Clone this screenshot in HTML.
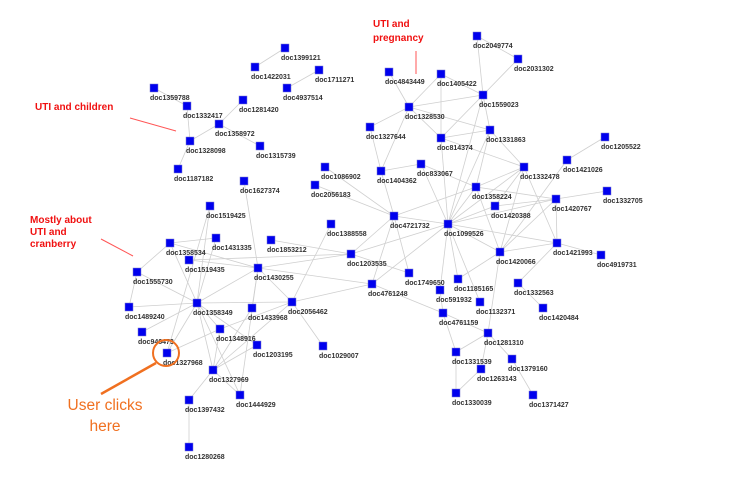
<!DOCTYPE html>
<html><head><meta charset="utf-8"><style>
html,body{margin:0;padding:0;background:#fff;width:736px;height:484px;overflow:hidden}
svg{display:block}
.l{font-family:"Liberation Sans",sans-serif;font-size:7px;font-weight:bold;fill:#333}
.r{font-family:"Liberation Sans",sans-serif;font-size:10px;font-weight:bold;fill:#f01010}
.o{font-family:"Liberation Sans",sans-serif;font-size:15.5px;fill:#f07020}
</style></head><body>
<svg id="s" width="736" height="484" xmlns="http://www.w3.org/2000/svg">
<g id="E" stroke="#cfcfcf" stroke-width="0.8"></g>
<g id="N"></g>
<text class="r" x="35" y="110">UTI and children</text>
<line x1="130" y1="118" x2="176" y2="131" stroke="#f55" stroke-width="1"/>
<text class="r" x="30" y="223">Mostly about</text>
<text class="r" x="30" y="235">UTI and</text>
<text class="r" x="30" y="247">cranberry</text>
<line x1="101" y1="239" x2="133" y2="256" stroke="#f55" stroke-width="1"/>
<text class="r" x="373" y="27">UTI and</text>
<text class="r" x="373" y="41">pregnancy</text>
<line x1="416" y1="51" x2="416" y2="74" stroke="#f55" stroke-width="1"/>
<circle cx="166" cy="353" r="13" fill="none" stroke="#f07020" stroke-width="2"/>
<line x1="156" y1="363" x2="101" y2="394" stroke="#f07020" stroke-width="2.5"/>
<text class="o" x="105" y="410" text-anchor="middle">User clicks</text>
<text class="o" x="105" y="431" text-anchor="middle">here</text>
</svg>
<script>
var P={1399121:[285,48],1422031:[255,67],1711271:[319,70],4937514:[287,88],1359788:[154,88],1332417:[187,106],1281420:[243,100],1358972:[219,124],1328098:[190,141],1315739:[260,146],1187182:[178,169],1627374:[244,181],1086902:[325,167],2056183:[315,185],1519425:[210,206],1431335:[216,238],1358534:[170,243],1519435:[189,260],1853212:[271,240],1430255:[258,268],1388558:[331,224],1203535:[351,254],1555730:[137,272],1489240:[129,307],1358349:[197,303],1433968:[252,308],2056462:[292,302],946473:[142,332],1348916:[220,329],1203195:[257,345],1029007:[323,346],1327968:[167,353],4761248:[372,284],1327969:[213,370],1397432:[189,400],1444929:[240,395],1280268:[189,447],2049774:[477,36],2031302:[518,59],4843449:[389,72],1405422:[441,74],1559023:[483,95],1328530:[409,107],1327644:[370,127],1331863:[490,130],814374:[441,138],1205522:[605,137],1421026:[567,160],1332478:[524,167],833067:[421,164],1404362:[381,171],1358224:[476,187],1332705:[607,191],1420767:[556,199],1420388:[495,206],4721732:[394,216],1099526:[448,224],1421993:[557,243],1420066:[500,252],4919731:[601,255],1749650:[409,273],1185165:[458,279],591932:[440,290],1332563:[518,283],1132371:[480,302],1420484:[543,308],4761159:[443,313],1281310:[488,333],1331539:[456,352],1379160:[512,359],1263143:[481,369],1330039:[456,393],1371427:[533,395]};
var E="1399121-1422031 1711271-4937514 1359788-1332417 1332417-1328098 1358972-1328098 1358972-1281420 1358972-1315739 1328098-1187182 1086902-4721732 2056183-4721732 1627374-1430255 1519425-1358349 1519425-1327968 1358534-1431335 1358534-1430255 1358534-1555730 1358534-1358349 1431335-1358349 1519435-1430255 1853212-1203535 1430255-1203535 1430255-4761248 1430255-1358349 1430255-2056462 1430255-1433968 1555730-1489240 1555730-1358349 1489240-1358349 1358349-2056462 1358349-946473 1358349-1327968 1358349-1327969 1358349-1203195 1358349-1348916 2056462-1388558 2056462-4761248 2056462-1029007 2056462-1327969 2056462-1348916 1348916-1327968 1348916-1327969 1433968-1327969 1203195-1327969 1327969-1397432 1327969-1444929 1397432-1280268 1444929-1430255 1444929-1358349 1203535-1099526 1203535-4721732 1203535-1749650 1203535-1519435 4761248-1099526 4761248-4721732 4761248-4761159 4721732-1099526 4721732-1749650 4721732-1404362 4721732-1358224 1099526-1332478 1099526-1358224 1099526-1420388 1099526-1420767 1099526-1421993 1099526-1420066 1099526-1185165 1099526-591932 1099526-1132371 1099526-814374 1099526-1559023 1099526-1331863 1099526-833067 1404362-833067 1404362-1327644 1404362-1328530 1327644-1328530 1328530-4843449 1328530-1405422 1328530-1559023 1328530-1331863 1328530-814374 1405422-814374 1405422-1559023 1559023-2049774 1559023-2031302 1559023-814374 1559023-1331863 814374-1331863 814374-1332478 1331863-1332478 1331863-1358224 1332478-1358224 1332478-1420388 1332478-1420066 1332478-1421993 1421026-1205522 1421026-1420066 1420767-1332705 1420767-1358224 1420767-1420388 1420767-1420066 1420767-1421993 1421993-4919731 1421993-1332563 1421993-1420066 1420066-1185165 1420066-1281310 1420066-1358224 591932-4761159 4761159-1281310 4761159-1331539 1281310-1331539 1281310-1263143 1281310-1379160 1379160-1371427 1331539-1330039 1263143-1330039 1420484-1332563 2049774-2031302 833067-1358224";
var ns="http://www.w3.org/2000/svg",ge=document.getElementById("E"),gn=document.getElementById("N");
E.split(" ").forEach(function(e){var a=e.split("-"),p=P[a[0]],q=P[a[1]];if(!p||!q)return;var l=document.createElementNS(ns,"line");l.setAttribute("x1",p[0]);l.setAttribute("y1",p[1]);l.setAttribute("x2",q[0]);l.setAttribute("y2",q[1]);ge.appendChild(l);});
for(var k in P){var p=P[k];var r=document.createElementNS(ns,"rect");r.setAttribute("x",p[0]-4);r.setAttribute("y",p[1]-4);r.setAttribute("width",8);r.setAttribute("height",8);r.setAttribute("fill","#0000ee");r.setAttribute("stroke","#7f7fd0");r.setAttribute("stroke-width","0.5");gn.appendChild(r);
var t=document.createElementNS(ns,"text");t.setAttribute("class","l");t.setAttribute("x",p[0]-4);t.setAttribute("y",p[1]+12);t.textContent="doc"+k;gn.appendChild(t);}
</script>
</body></html>
